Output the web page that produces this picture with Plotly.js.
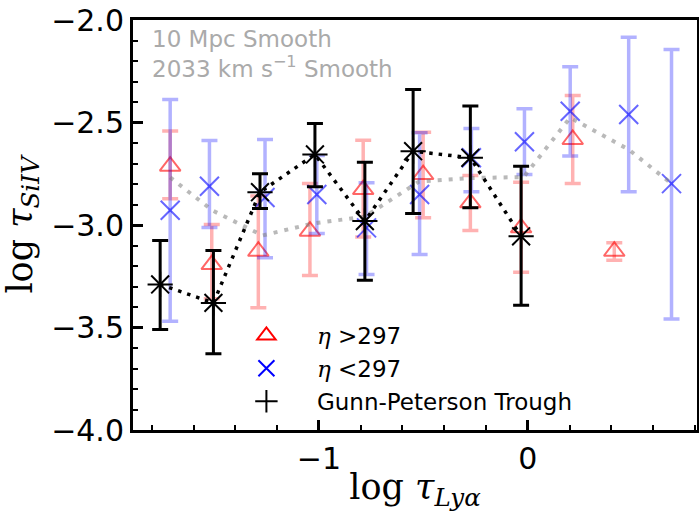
<!DOCTYPE html>
<html>
<head>
<meta charset="utf-8">
<script src="https://cdn.plot.ly/plotly-3.0.1.min.js"></script>
<style>html,body{margin:0;padding:0;background:#fff;}#chart{width:699px;height:512px;}</style>
</head>
<body>
<div id="chart"></div>
<script>
// η > 297 (red triangles)
const redX = [-1.712, -1.513, -1.290, -1.043, -0.788, -0.501, -0.275, -0.032, 0.215, 0.414];
const redY = [-2.713, -3.193, -3.128, -3.030, -2.827, -2.754, -2.892, -3.014, -2.583, -3.128];
const redErrPlus = [0.171, 0.195, 0.27, 0.232, 0.241, 0.207, 0.133, 0.223, 0.215, 0.041];
const redErrMinus = [0.159, 0.167, 0.276, 0.216, 0.231, 0.211, 0.135, 0.216, 0.215, 0.044];

// η < 297 (blue crosses)
const blueX = [-1.712, -1.524, -1.258, -1.010, -0.772, -0.518, -0.270, -0.016, 0.203, 0.483, 0.688];
const blueY = [-2.928, -2.811, -2.866, -2.851, -3.014, -2.851, -2.672, -2.594, -2.445, -2.461, -2.798];
const blueErrPlus = [0.540, 0.223, 0.283, 0.19, 0.220, 0.301, 0.143, 0.161, 0.217, 0.377, 0.654];
const blueErrMinus = [0.541, 0.201, 0.294, 0.190, 0.227, 0.293, 0.166, 0.160, 0.219, 0.377, 0.660];

// Gunn-Peterson Trough (black)
const blackX = [-1.760, -1.505, -1.282, -1.019, -0.780, -0.549, -0.275, -0.032];
const blackY = [-3.290, -3.380, -2.840, -2.656, -2.981, -2.640, -2.672, -3.055];
const blackErrPlus = [0.214, 0.256, 0.090, 0.151, 0.287, 0.301, 0.252, 0.342];
const blackErrMinus = [0.220, 0.248, 0.080, 0.158, 0.288, 0.304, 0.244, 0.336];

// combined smoothed trend (gray dotted)
const grayX = [-1.712, -1.51, -1.27, -1.03, -0.78, -0.52, -0.27, -0.02, 0.203, 0.483, 0.688];
const grayY = [-2.768, -2.929, -3.051, -2.993, -2.959, -2.788, -2.771, -2.766, -2.476, -2.632, -2.798];

const legendNames = ['<span style="font-family:\'DejaVu Serif\'"><i>η</i></span> >297',
                     '<span style="font-family:\'DejaVu Serif\'"><i>η</i></span> <297',
                     'Gunn-Peterson Trough'];
const annotLines = ['10 Mpc Smooth', '2033 km s<sup>−1</sup> Smooth'];
const xTitle = 'log <i>τ</i><sub><i>Lyα</i></sub>';
const yTitle = 'log <i>τ</i><sub><i>SiIV</i></sub>';

const traces = [
  {
    x: redX, y: redY, type: 'scatter', mode: 'markers', showlegend: false,
    marker: {symbol: 'triangle-up-open', size: 18, color: 'rgba(255,0,0,0.6)', line: {width: 2, color: 'rgba(255,0,0,0.6)'}},
    error_y: {type: 'data', symmetric: false, array: redErrPlus, arrayminus: redErrMinus,
              color: 'rgba(255,0,0,0.3)', thickness: 3.5, width: 8}
  },
  {
    x: blueX, y: blueY, type: 'scatter', mode: 'markers', showlegend: false,
    marker: {symbol: 'x-thin-open', size: 19, color: 'rgba(0,0,255,0.6)', line: {width: 2, color: 'rgba(0,0,255,0.6)'}},
    error_y: {type: 'data', symmetric: false, array: blueErrPlus, arrayminus: blueErrMinus,
              color: 'rgba(0,0,255,0.3)', thickness: 3.5, width: 8}
  },
  {
    x: grayX, y: grayY, type: 'scatter', mode: 'lines', showlegend: false,
    line: {color: 'rgba(128,128,128,0.55)', width: 4, dash: '4px,7px'}
  },
  {
    x: blackX, y: blackY, type: 'scatter', mode: 'lines+markers', showlegend: false,
    line: {color: '#000', width: 3.5, dash: '3.5px,6px'},
    marker: {symbol: 'asterisk-open', size: 21, color: '#000', line: {width: 2, color: '#000'}},
    error_y: {type: 'data', symmetric: false, array: blackErrPlus, arrayminus: blackErrMinus,
              color: '#000', thickness: 3, width: 8}
  },
  {x: [null], y: [null], type: 'scatter', mode: 'markers', name: legendNames[0],
   marker: {symbol: 'triangle-up-open', size: 19, color: 'red', line: {width: 2, color: 'red'}}},
  {x: [null], y: [null], type: 'scatter', mode: 'markers', name: legendNames[1],
   marker: {symbol: 'x-thin-open', size: 19, color: 'blue', line: {width: 2, color: 'blue'}}},
  {x: [null], y: [null], type: 'scatter', mode: 'markers', name: legendNames[2],
   marker: {symbol: 'cross-thin-open', size: 19, color: 'black', line: {width: 2, color: 'black'}}}
];

const layout = {
  width: 699, height: 512,
  margin: {l: 133, r: 2, t: 20, b: 82},
  paper_bgcolor: '#fff', plot_bgcolor: '#fff',
  font: {family: 'DejaVu Sans', color: '#000'},
  showlegend: true,
  legend: {x: 0.147, y: 0.283, xanchor: 'left', yanchor: 'top', bgcolor: 'rgba(0,0,0,0)',
           font: {size: 23, family: 'DejaVu Sans', color: '#000'}, itemwidth: 91, tracegroupgap: 0},
  xaxis: {
    range: [-1.89, 0.81], showgrid: false, zeroline: false,
    showline: true, linecolor: '#000', linewidth: 3, mirror: true,
    ticks: 'inside', ticklen: 10, tickwidth: 3, tickcolor: '#000', dtick: 1, tick0: 0,
    tickfont: {size: 30, family: 'DejaVu Sans'},
    minor: {dtick: 0.2, tick0: 0, ticks: 'inside', ticklen: 5, tickwidth: 2, tickcolor: '#000', showgrid: false},
    title: {text: xTitle, font: {size: 35, family: 'DejaVu Serif'}, standoff: 12}
  },
  yaxis: {
    range: [-4.0, -2.0], showgrid: false, zeroline: false,
    showline: true, linecolor: '#000', linewidth: 3, mirror: true,
    ticks: 'inside', ticklen: 10, tickwidth: 3, tickcolor: '#000', dtick: 0.5, tick0: 0,
    tickformat: '.1f', tickfont: {size: 30, family: 'DejaVu Sans'},
    minor: {dtick: 0.1, tick0: 0, ticks: 'inside', ticklen: 5, tickwidth: 2, tickcolor: '#000', showgrid: false},
    title: {text: yTitle, font: {size: 35, family: 'DejaVu Serif'}, standoff: 12}
  },
  annotations: [
    {xref: 'paper', yref: 'paper', x: 0.031, y: 1, xanchor: 'left', yanchor: 'top', showarrow: false,
     yshift: -4, align: 'left', text: annotLines[0] + '<br>' + annotLines[1],
     font: {size: 23, family: 'DejaVu Sans', color: '#aaaaaa'}}
  ]
};

Plotly.newPlot('chart', traces, layout, {staticPlot: true, displayModeBar: false});
</script>
</body>
</html>
